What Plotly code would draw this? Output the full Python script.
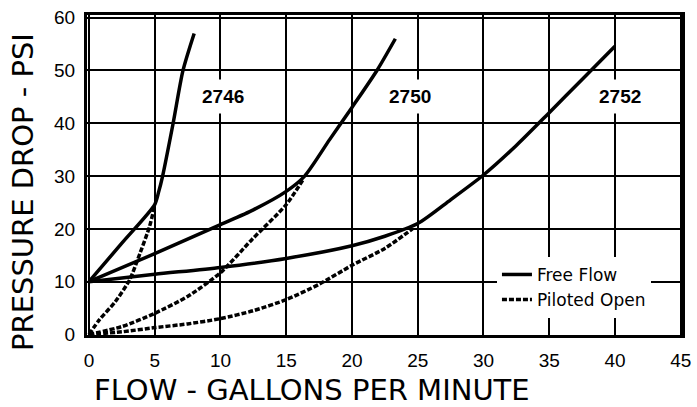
import plotly.graph_objects as go

# ---- data ----
ff_2746_x = [0, 2.5, 5, 5.3, 5.6, 6.4, 7.15, 8.0]
ff_2746_y = [10, 17.3, 24.6, 27, 30, 40, 50, 57]
po_2746_x = [0, 0.8, 2, 3.1, 3.9, 4.6, 5]
po_2746_y = [0, 2.8, 6.2, 10.4, 15.5, 20.4, 24.4]

ff_2750_x = [0, 5, 10, 12.5, 15, 16.4, 18.3, 20, 21.9, 23.3]
ff_2750_y = [10, 15.3, 20.8, 23.6, 27.1, 30, 36.9, 43, 50, 56]
po_2750_x = [0, 2.5, 5, 7.5, 10, 12.4, 15, 16.3]
po_2750_y = [0, 1.5, 4, 7.2, 11.7, 18, 24.6, 29.4]

ff_2752_x = [0, 5, 10, 15, 20, 22.5, 25, 27.5, 30, 32.5, 35, 37.5, 40]
ff_2752_y = [10, 11.4, 12.7, 14.4, 16.8, 18.6, 21, 25.5, 30.2, 35.8, 42, 48.3, 54.6]
po_2752_x = [0, 2.5, 5, 7.5, 10, 12.5, 15, 17.5, 20, 22.5, 24.6]
po_2752_y = [0, 0.5, 1.3, 2.0, 3.0, 4.5, 6.6, 9.5, 13.1, 16.3, 20.0]

model_labels = ["2746", "2750", "2752"]
label_x = [10.2, 24.4, 40.4]
label_y = [45, 45, 45]

x_ticks = [0, 5, 10, 15, 20, 25, 30, 35, 40, 45]
y_ticks = [0, 10, 20, 30, 40, 50, 60]

fig = go.Figure()

solid = dict(color="black", width=3.5)
dashed = dict(color="black", width=3.5, dash="5px,2px")

series = [
    (ff_2746_x, ff_2746_y, po_2746_x, po_2746_y, True),
    (ff_2750_x, ff_2750_y, po_2750_x, po_2750_y, False),
    (ff_2752_x, ff_2752_y, po_2752_x, po_2752_y, False),
]
for fx, fy, px, py, show in series:
    fig.add_trace(go.Scatter(x=fx, y=fy, mode="lines", name="Free Flow",
                             legendgroup="ff", showlegend=show,
                             line=dict(**solid, shape="spline", smoothing=0.7)))
    fig.add_trace(go.Scatter(x=px, y=py, mode="lines", name="Piloted Open",
                             legendgroup="po", showlegend=show,
                             line=dict(**dashed, shape="spline", smoothing=0.7)))

for t, x, y in zip(model_labels, label_x, label_y):
    fig.add_annotation(x=x, y=y, text="<b>" + t + "</b>", showarrow=False,
                       bgcolor="white", borderpad=6,
                       font=dict(family="Liberation Sans, Arial", size=19, color="black"))

fig.add_annotation(xref="paper", yref="paper", x=0.378, y=-0.232,
                   text="FLOW - GALLONS PER MINUTE", showarrow=False,
                   xanchor="center", yanchor="bottom",
                   font=dict(family="DejaVu Sans", size=29, color="black"))
fig.add_annotation(xref="paper", yref="paper", x=-0.1076, y=0.447,
                   text="PRESSURE DROP - PSI", showarrow=False, textangle=-90,
                   xanchor="center", yanchor="middle",
                   font=dict(family="DejaVu Sans", size=29, color="black"))

axis_common = dict(showgrid=True, gridcolor="black", gridwidth=2,
                   showline=True, linecolor="black", linewidth=3, mirror=True,
                   zeroline=False, ticks="", automargin=False,
                   tickfont=dict(family="Liberation Sans, Arial", size=19, color="black"))

fig.update_xaxes(range=[-0.15, 45.1], tickvals=x_ticks, ticklabelstandoff=6, **axis_common)
fig.update_yaxes(range=[-0.1, 60.5], tickvals=y_ticks, ticklabelstandoff=5, **axis_common)

fig.update_layout(
    width=697, height=407,
    margin=dict(l=87, r=15, t=15, b=72, autoexpand=False),
    paper_bgcolor="white", plot_bgcolor="white",
    showlegend=True,
    legend=dict(x=0.689, y=0.244, xanchor="left", yanchor="top",
                bgcolor="white", borderwidth=0,
                font=dict(family="DejaVu Sans", size=17, color="black"),
                tracegroupgap=0, itemwidth=30),
)

fig.write_html("out.html", config={"displayModeBar": False},
               post_script="document.body.style.margin='0';document.body.style.overflow='hidden';")
